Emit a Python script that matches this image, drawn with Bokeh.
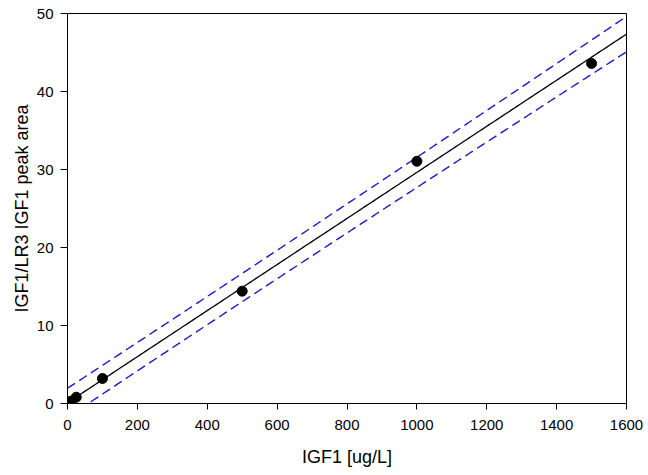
import numpy as np
from bokeh.plotting import figure
from bokeh.models import Range1d, FixedTicker
from bokeh.embed import file_html
from bokeh.resources import INLINE

# Calibration data
conc = [0, 5, 10, 25, 100, 500, 1000, 1500]          # IGF1 [ug/L]
ratio = [0.0, 0.15, 0.3, 0.8, 3.2, 14.4, 31.05, 43.6]  # IGF1/LR3 IGF1 peak area
x_ticks = [0, 200, 400, 600, 800, 1000, 1200, 1400, 1600]
y_ticks = [0, 10, 20, 30, 40, 50]
T_CRIT = 2.447  # t(0.975, df=6) for 95% prediction band

# Linear regression and 95% prediction band derived from the data
xa = np.array(conc, dtype=float)
ya = np.array(ratio, dtype=float)
n = len(xa)
slope, intercept = np.polyfit(xa, ya, 1)
resid = ya - (slope * xa + intercept)
s = np.sqrt(np.sum(resid ** 2) / (n - 2))
sxx = np.sum((xa - xa.mean()) ** 2)
xf = np.linspace(0, 1600, 200)
yf = slope * xf + intercept
half = T_CRIT * s * np.sqrt(1 + 1 / n + (xf - xa.mean()) ** 2 / sxx)

FONT = "Liberation Sans"

p = figure(width=648, height=475, output_backend="svg", toolbar_location=None,
           x_range=Range1d(0, 1600), y_range=Range1d(0, 50),
           min_border_left=67, min_border_right=22, min_border_top=13, min_border_bottom=72)
p.xgrid.visible = False
p.ygrid.visible = False
p.outline_line_color = "black"
p.outline_line_width = 1
p.background_fill_color = "white"
p.border_fill_color = "white"

p.line(xf, yf + half, line_color="#1a1acc", line_width=1.4, line_dash="9 5")
p.line(xf, yf - half, line_color="#1a1acc", line_width=1.4, line_dash="9 5")
p.line(xf, yf, line_color="black", line_width=1.3)
p.scatter(conc, ratio, size=10, fill_color="black", line_color="black")

for ax in (p.xaxis[0], p.yaxis[0]):
    ax.axis_line_color = "black"
    ax.major_tick_line_color = "black"
    ax.minor_tick_line_color = None
    ax.major_tick_in = 0
    ax.major_label_text_font = FONT
    ax.major_label_text_font_size = "15px"
    ax.major_label_text_color = "black"
    ax.axis_label_text_font = FONT
    ax.axis_label_text_font_size = "18px"
    ax.axis_label_text_font_style = "normal"
    ax.axis_label_text_color = "black"

p.xaxis.ticker = FixedTicker(ticks=x_ticks)
p.yaxis.ticker = FixedTicker(ticks=y_ticks)
p.xaxis.axis_label = "IGF1 [ug/L]"
p.yaxis.axis_label = "IGF1/LR3 IGF1 peak area"
p.xaxis.major_tick_out = 6
p.yaxis.major_tick_out = 7
p.xaxis.major_label_standoff = 10
p.yaxis.major_label_standoff = 7
p.xaxis.axis_label_standoff = 14
p.yaxis.axis_label_standoff = 2

open("out.html", "w").write(file_html(p, INLINE))
